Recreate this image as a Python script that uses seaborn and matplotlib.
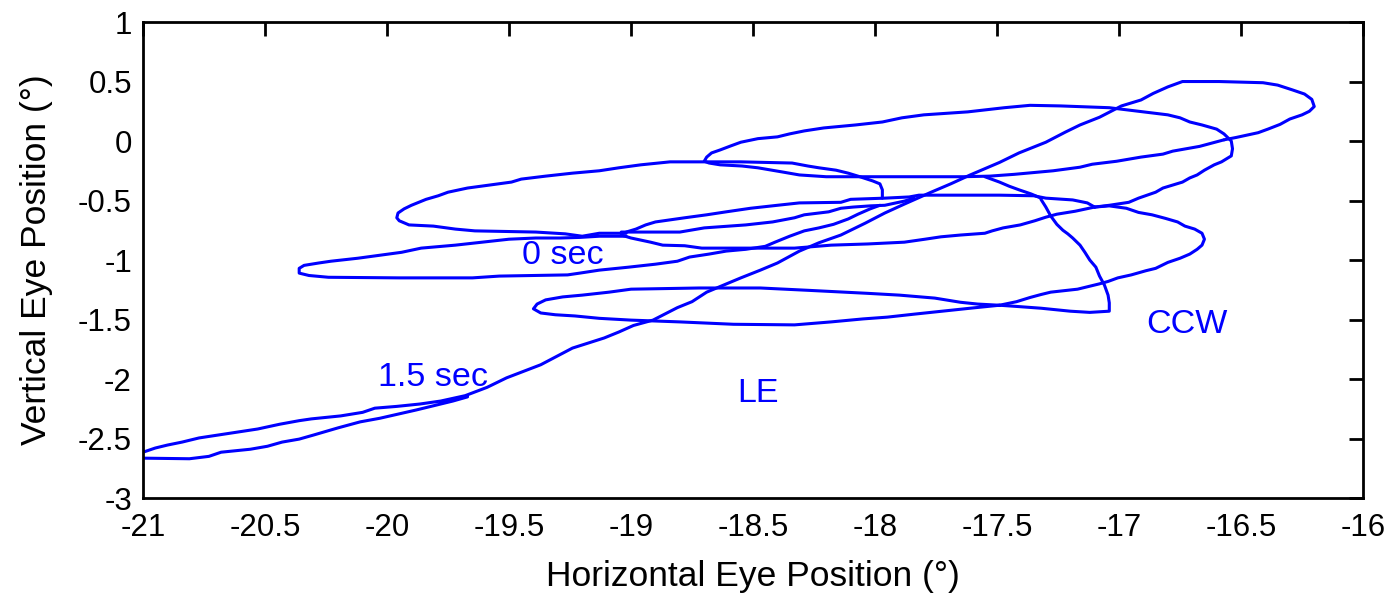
import numpy as np
import pandas as pd
import matplotlib
matplotlib.use("Agg")
import matplotlib.pyplot as plt
import seaborn as sns

# ---------------- data (degrees) ----------------
# diagonal + top loop + bottom-left loop (ends at 1.5 sec)
s1_x = [-16.57, -16.52, -16.43, -16.39, -16.34, -16.30, -16.25, -16.22, -16.20, -16.21, -16.24, -16.29, -16.35, -16.41,
        -16.59, -16.74, -16.80, -16.86, -16.91, -16.99, -17.08, -17.16, -17.22, -17.30, -17.41, -17.49, -17.61, -17.69,
        -17.77, -17.88, -17.96, -18.04, -18.14, -18.23, -18.31, -18.40, -18.47, -18.55, -18.62, -18.69, -18.75, -18.81,
        -18.91, -18.99, -19.05, -19.11, -19.24, -19.37, -19.51, -19.59, -19.68, -19.78, -19.865, -19.96, -20.05, -20.10,
        -20.19, -20.31, -20.36, -20.44, -20.53, -20.61, -20.69, -20.77, -20.84, -20.90, -20.95, -21.00, -21.03, -21.00,
        -20.81, -20.73, -20.68, -20.56, -20.49, -20.43, -20.36, -20.30, -20.20, -20.11, -20.03, -19.955, -19.88, -19.80,
        -19.73, -19.67]
s1_y = [0.01, 0.03, 0.07, 0.10, 0.14, 0.185, 0.22, 0.25, 0.29, 0.35, 0.395, 0.43, 0.47, 0.49,
        0.50, 0.50, 0.455, 0.40, 0.345, 0.295, 0.20, 0.135, 0.075, -0.01, -0.10, -0.18, -0.285, -0.36,
        -0.43, -0.53, -0.605, -0.69, -0.79, -0.855, -0.925, -1.025, -1.085, -1.15, -1.21, -1.27, -1.35, -1.40,
        -1.505, -1.55, -1.605, -1.655, -1.74, -1.88, -1.99, -2.07, -2.14, -2.185, -2.21, -2.23, -2.245, -2.28,
        -2.31, -2.335, -2.35, -2.38, -2.42, -2.445, -2.47, -2.495, -2.53, -2.555, -2.58, -2.615, -2.64, -2.665,
        -2.67, -2.65, -2.615, -2.59, -2.565, -2.53, -2.505, -2.47, -2.41, -2.36, -2.33, -2.295, -2.26, -2.22,
        -2.185, -2.15]

# upper-right loop and its return line
s2_x = [-17.10, -17.04, -16.96, -16.92, -16.885, -16.85, -16.82, -16.78, -16.74, -16.71, -16.68, -16.65, -16.61, -16.58,
        -16.54, -16.535, -16.54, -16.57, -16.60, -16.66, -16.71, -16.75, -16.80, -16.90, -17.04, -17.24, -17.365, -17.47,
        -17.62, -17.80, -17.89, -17.97, -18.08, -18.21, -18.29, -18.35, -18.40, -18.48, -18.55, -18.59, -18.635, -18.67,
        -18.69, -18.70, -18.68, -18.635, -18.545, -18.48, -18.38, -18.31, -18.20, -17.64, -17.53, -17.43, -17.27, -17.16,
        -17.11, -17.01, -16.91, -16.82, -16.78, -16.67, -16.57]
s2_y = [-0.555, -0.54, -0.515, -0.48, -0.455, -0.43, -0.395, -0.37, -0.345, -0.31, -0.285, -0.245, -0.20, -0.175,
        -0.125, -0.065, 0.00, 0.06, 0.10, 0.135, 0.16, 0.195, 0.22, 0.245, 0.28, 0.295, 0.30, 0.28,
        0.245, 0.22, 0.195, 0.16, 0.135, 0.11, 0.085, 0.06, 0.035, 0.02, -0.01, -0.04, -0.075, -0.10,
        -0.135, -0.17, -0.185, -0.20, -0.21, -0.225, -0.26, -0.285, -0.30, -0.30, -0.295, -0.28, -0.25, -0.22,
        -0.195, -0.17, -0.135, -0.11, -0.085, -0.045, 0.01]

# right loop around -0.8
s3_x = [-17.49, -17.42, -17.365, -17.32, -17.28, -17.17, -17.12, -17.08, -17.045, -17.005, -16.95, -16.89, -16.85,
        -16.80, -16.75, -16.71, -16.68, -16.66, -16.65, -16.66, -16.69, -16.73, -16.76, -16.81, -16.865, -16.92,
        -16.97, -17.04, -17.10]
s3_y = [-1.38, -1.35, -1.315, -1.29, -1.27, -1.245, -1.22, -1.20, -1.18, -1.15, -1.125, -1.09, -1.07,
        -1.02, -0.985, -0.95, -0.91, -0.875, -0.825, -0.775, -0.74, -0.715, -0.68, -0.65, -0.62, -0.60,
        -0.565, -0.545, -0.555]

s4_x = [-17.10, -17.18, -17.255, -17.30, -17.345, -17.405, -17.475, -17.52, -17.55, -17.65, -17.73, -17.795, -17.88,
        -18.03, -18.18, -18.33, -18.71, -18.78, -18.87, -18.92, -19.00, -19.04]
s4_y = [-0.555, -0.59, -0.615, -0.64, -0.67, -0.705, -0.73, -0.755, -0.775, -0.79, -0.805, -0.825, -0.85,
        -0.865, -0.875, -0.90, -0.90, -0.88, -0.875, -0.85, -0.815, -0.79]

# lower loop around -1.4
s5_x = [-17.32, -17.30, -17.28, -17.255, -17.23, -17.21, -17.19, -17.16, -17.14, -17.12, -17.095, -17.08, -17.06,
        -17.045, -17.04, -17.04, -17.12, -17.20, -17.32, -17.42, -17.49, -17.58, -17.65, -17.755, -17.90, -18.03,
        -18.27, -18.47, -18.72, -19.00, -19.09, -19.20, -19.28, -19.35, -19.385, -19.40, -19.37, -19.31, -19.23,
        -19.13, -19.00, -18.80, -18.58, -18.33, -18.18, -18.05, -17.95, -17.84, -17.725, -17.61, -17.49]
s5_y = [-0.49, -0.555, -0.63, -0.70, -0.75, -0.78, -0.815, -0.875, -0.935, -1.00, -1.06, -1.135, -1.21,
        -1.295, -1.36, -1.43, -1.44, -1.43, -1.405, -1.39, -1.38, -1.37, -1.355, -1.32, -1.295, -1.28,
        -1.255, -1.235, -1.235, -1.245, -1.27, -1.295, -1.31, -1.335, -1.37, -1.41, -1.445, -1.46, -1.47,
        -1.49, -1.505, -1.52, -1.54, -1.545, -1.52, -1.495, -1.48, -1.455, -1.43, -1.405, -1.38]

s6_x = [-17.10, -17.13, -17.19, -17.30, -17.35, -17.49, -17.82, -17.86, -17.96, -18.10, -18.14, -18.31, -18.40,
        -18.51, -18.61, -18.69, -18.78, -18.90, -18.94, -18.98, -19.02]
s6_y = [-0.555, -0.52, -0.495, -0.48, -0.46, -0.455, -0.455, -0.47, -0.48, -0.49, -0.515, -0.52, -0.54,
        -0.565, -0.595, -0.62, -0.645, -0.68, -0.705, -0.74, -0.765]

# upper-left loop
s7_x = [-17.97, -17.97, -17.98, -18.01, -18.07, -18.11, -18.16, -18.23, -18.275, -18.34, -18.55, -18.84, -18.96,
        -19.05, -19.13, -19.24, -19.35, -19.45, -19.49, -19.58, -19.67, -19.75, -19.79, -19.84, -19.90, -19.93,
        -19.955, -19.96, -19.95, -19.91, -19.81, -19.72, -19.64, -19.39, -19.27, -19.20, -19.13, -19.02]
s7_y = [-0.48, -0.41, -0.36, -0.335, -0.295, -0.27, -0.245, -0.225, -0.21, -0.185, -0.175, -0.175, -0.20,
        -0.225, -0.25, -0.27, -0.295, -0.32, -0.345, -0.37, -0.395, -0.43, -0.46, -0.49, -0.54, -0.57,
        -0.605, -0.645, -0.67, -0.705, -0.715, -0.74, -0.755, -0.765, -0.78, -0.80, -0.775, -0.775]

s8_x = [-19.04, -18.80, -18.70, -18.53, -18.42, -18.33, -18.29, -18.19, -18.14, -18.09, -18.02, -17.96, -17.88, -17.84]
s8_y = [-0.765, -0.765, -0.73, -0.705, -0.68, -0.645, -0.62, -0.595, -0.565, -0.555, -0.545, -0.54, -0.505, -0.48]

# "0 sec" loop, its lower edge rising on to the right
s9_x = [-19.02, -19.13, -19.21, -19.29, -19.39, -19.50, -19.61, -19.72, -19.86, -19.94, -20.03, -20.12, -20.23,
        -20.28, -20.34, -20.36, -20.36, -20.32, -20.24, -19.95, -19.65, -19.54, -19.26, -19.21, -19.13, -19.01,
        -18.90, -18.81, -18.76, -18.68, -18.61, -18.53, -18.45, -18.41, -18.35, -18.29, -18.23, -18.17, -18.11,
        -18.07, -18.02, -17.98]
s9_y = [-0.80, -0.80, -0.81, -0.815, -0.815, -0.825, -0.85, -0.875, -0.90, -0.935, -0.96, -0.985, -1.01,
        -1.025, -1.045, -1.07, -1.11, -1.13, -1.145, -1.15, -1.15, -1.135, -1.125, -1.11, -1.085, -1.06,
        -1.035, -1.01, -0.975, -0.95, -0.925, -0.91, -0.885, -0.85, -0.80, -0.755, -0.73, -0.70, -0.655,
        -0.615, -0.57, -0.54]

s11_x = [-17.55, -17.49, -17.45, -17.41, -17.36, -17.32]
s11_y = [-0.30, -0.345, -0.38, -0.41, -0.445, -0.48]

x_ticks = [-21, -20.5, -20, -19.5, -19, -18.5, -18, -17.5, -17, -16.5, -16]
x_tick_labels = ["-21", "-20.5", "-20", "-19.5", "-19", "-18.5", "-18", "-17.5", "-17", "-16.5", "-16"]
y_ticks = [-3, -2.5, -2, -1.5, -1, -0.5, 0, 0.5, 1]
y_tick_labels = ["-3", "-2.5", "-2", "-1.5", "-1", "-0.5", "0", "0.5", "1"]

annotations = [("0 sec", -19.28, -0.96), ("1.5 sec", -19.81, -1.985), ("LE", -18.48, -2.12), ("CCW", -16.72, -1.54)]

# ---------------- build table ----------------
strokes = [(s1_x, s1_y), (s2_x, s2_y), (s3_x, s3_y), (s4_x, s4_y), (s5_x, s5_y), (s6_x, s6_y),
           (s7_x, s7_y), (s8_x, s8_y), (s9_x, s9_y), (s11_x, s11_y)]
rows = []
for k, (xs, ys) in enumerate(strokes):
    for i, (a, b) in enumerate(zip(xs, ys)):
        rows.append({"h": a, "v": b, "stroke": k, "order": i})
df = pd.DataFrame(rows)

sns.set_style("white")
plt.rcParams["font.family"] = ["Liberation Sans", "DejaVu Sans"]

fig = plt.figure(figsize=(13.94, 5.97), dpi=100)
ax = fig.add_axes([0.1026, 0.1658, 0.9778 - 0.1026, 0.9631 - 0.1658])

sns.lineplot(data=df, x="h", y="v", units="stroke", estimator=None, sort=False,
             color="#0000ff", linewidth=2.2, ax=ax, legend=False)

ax.set_xlim(-21, -16)
ax.set_ylim(-3, 1)
ax.set_xticks(x_ticks)
ax.set_xticklabels(x_tick_labels)
ax.set_yticks(y_ticks)
ax.set_yticklabels(y_tick_labels)
ax.tick_params(direction="in", length=10, width=2, top=True, right=True,
               labelsize=22.5, colors="black")
ax.tick_params(axis="x", pad=11)
ax.tick_params(axis="y", pad=8)
for sp in ax.spines.values():
    sp.set_linewidth(2)
    sp.set_color("black")
    sp.set_visible(True)

ax.set_xlabel("Horizontal Eye Position (°)", fontsize=25.5, labelpad=12, color="black")
ax.set_ylabel("Vertical Eye Position (°)", fontsize=25.5, labelpad=18, color="black")

for txt, tx, ty in annotations:
    ax.text(tx, ty, txt, color="#0000ff", fontsize=24.5, ha="center", va="center")

fig.savefig("out.png", dpi=100, facecolor="white")
